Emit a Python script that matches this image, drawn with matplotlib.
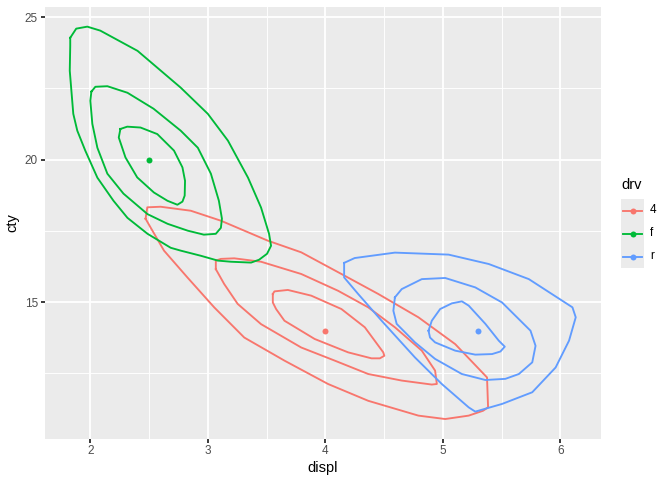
import numpy as np
import matplotlib
matplotlib.use('Agg')
import matplotlib.pyplot as plt

plt.rcParams['font.family'] = ['Liberation Sans', 'DejaVu Sans']

# groups (drv) and their ggplot hue colours
drv = ['4', 'f', 'r']
colors = ['#F8766D', '#00BA38', '#619CFF']

# summary points
pt_x = [4.0, 2.5, 5.3]
pt_y = [14.0, 20.0, 14.0]

# density contours (displ, cty)
red_outer_x = [2.470, 2.485, 2.598, 2.855, 3.111, 3.510, 3.795, 4.137, 4.450, 4.792, 5.105, 5.376,
               5.385, 5.342, 5.220, 5.020, 4.792, 4.365, 4.023, 3.652, 3.310, 3.054, 2.826, 2.627, 2.513]
red_outer_y = [17.93, 18.33, 18.35, 18.21, 17.86, 17.16, 16.75, 15.99, 15.29, 14.47, 13.53, 12.36,
               11.31, 11.19, 11.02, 10.90, 11.02, 11.54, 12.13, 12.95, 13.76, 14.82, 15.87, 16.81, 17.62]
red_mid_x = [3.068, 3.068, 3.111, 3.225, 3.453, 3.795, 4.109, 4.365, 4.592, 4.821, 4.934, 4.949,
             4.906, 4.650, 4.365, 4.080, 3.795, 3.453, 3.254, 3.139]
red_mid_y = [16.16, 16.46, 16.52, 16.54, 16.42, 15.99, 15.40, 14.82, 14.12, 13.30, 12.60, 12.13,
             12.11, 12.25, 12.48, 12.95, 13.41, 14.23, 14.94, 15.64]
red_inner_x = [3.553, 3.567, 3.681, 3.880, 4.137, 4.336, 4.493, 4.502, 4.464, 4.393, 4.194, 3.909,
               3.652, 3.581, 3.553]
red_inner_y = [15.29, 15.38, 15.43, 15.23, 14.76, 14.12, 13.24, 13.12, 13.03, 13.03, 13.24, 13.71,
               14.35, 14.76, 14.99]

green_outer_x = [1.829, 1.880, 1.974, 2.085, 2.402, 2.769, 3.000, 3.171, 3.342, 3.453, 3.521, 3.538,
                 3.504, 3.436, 3.368, 3.197, 3.085, 2.940, 2.769, 2.684, 2.487, 2.316, 2.197, 2.060,
                 1.957, 1.889, 1.855, 1.825, 1.829]
green_outer_y = [24.28, 24.60, 24.67, 24.53, 23.82, 22.53, 21.61, 20.67, 19.37, 18.32, 17.40, 16.98,
                 16.70, 16.49, 16.39, 16.42, 16.46, 16.63, 16.81, 16.91, 17.40, 17.96, 18.56, 19.37,
                 20.32, 21.02, 21.61, 23.12, 24.00]
green_mid_x = [2.009, 2.043, 2.145, 2.316, 2.538, 2.769, 2.915, 3.026, 3.094, 3.120, 3.111, 3.068,
               2.966, 2.829, 2.658, 2.487, 2.282, 2.145, 2.060, 2.017, 2.000]
green_mid_y = [22.39, 22.56, 22.58, 22.35, 21.79, 21.02, 20.42, 19.51, 18.56, 17.93, 17.61, 17.40,
               17.37, 17.51, 17.75, 18.09, 18.81, 19.51, 20.42, 21.26, 22.07]
green_inner_x = [2.256, 2.314, 2.427, 2.570, 2.712, 2.784, 2.806, 2.803, 2.784, 2.741, 2.656, 2.541,
                 2.399, 2.299, 2.242]
green_inner_y = [21.08, 21.16, 21.13, 20.90, 20.32, 19.73, 19.26, 18.74, 18.53, 18.42, 18.56, 18.85,
                 19.38, 20.08, 20.78]

blue_outer_x = [4.160, 4.250, 4.592, 5.049, 5.391, 5.732, 6.103, 6.131, 6.074, 5.960, 5.761, 5.504,
                5.276, 5.220, 4.991, 4.763, 4.479, 4.279, 4.160]
blue_outer_y = [16.38, 16.55, 16.74, 16.67, 16.34, 15.81, 14.82, 14.47, 13.65, 12.71, 11.84, 11.43,
                11.16, 11.31, 12.13, 13.06, 14.35, 15.29, 15.87]
blue_mid_x = [4.592, 4.650, 4.821, 5.020, 5.276, 5.504, 5.746, 5.789, 5.761, 5.647, 5.532, 5.362,
              5.162, 4.934, 4.763, 4.607, 4.579]
blue_mid_y = [15.17, 15.46, 15.81, 15.85, 15.52, 14.99, 14.00, 13.47, 12.89, 12.48, 12.31, 12.27,
              12.48, 13.01, 13.59, 14.24, 14.70]
blue_inner_x = [4.878, 4.906, 4.977, 5.077, 5.162, 5.220, 5.362, 5.476, 5.527, 5.490, 5.419, 5.276,
                5.105, 4.934, 4.891]
blue_inner_y = [14.00, 14.35, 14.76, 14.96, 15.03, 14.88, 14.24, 13.65, 13.44, 13.27, 13.18, 13.16,
                13.30, 13.59, 13.76]

contours = [
    [(red_outer_x, red_outer_y), (red_mid_x, red_mid_y), (red_inner_x, red_inner_y)],
    [(green_outer_x, green_outer_y), (green_mid_x, green_mid_y), (green_inner_x, green_inner_y)],
    [(blue_outer_x, blue_outer_y), (blue_mid_x, blue_mid_y), (blue_inner_x, blue_inner_y)],
]

fig = plt.figure(figsize=(6.72, 4.8), dpi=100)
ax = fig.add_axes([44.5/672, 1 - 438.7/480, (601 - 44.5)/672, (438.7 - 6.7)/480])
ax.set_facecolor('#EBEBEB')

for i in range(3):
    for cx, cy in contours[i]:
        xs = list(cx) + [cx[0]]
        ys = list(cy) + [cy[0]]
        ax.plot(xs, ys, color=colors[i], lw=1.35, solid_joinstyle='round', zorder=3)
for i in range(3):
    ax.plot(pt_x[i], pt_y[i], 'o', color=colors[i], ms=4.3, mec='none', zorder=4)

ax.set_xlim(1.61, 6.346)
ax.set_ylim(10.21, 25.37)
ax.set_xticks([2, 3, 4, 5, 6])
ax.set_xticks([2.5, 3.5, 4.5, 5.5], minor=True)
ax.set_yticks([15, 20, 25])
ax.set_yticks([12.5, 17.5, 22.5], minor=True)
ax.grid(which='major', color='white', lw=1.35)
ax.grid(which='minor', color='white', lw=0.68)
ax.set_axisbelow(True)
for s in ax.spines.values():
    s.set_visible(False)
ax.tick_params(which='major', length=2.64, width=1.35, color='#333333', labelcolor='#4D4D4D',
               labelsize=8.45, pad=2.1)
ax.tick_params(which='minor', length=0)
ax.set_xlabel('displ', fontsize=10.56, labelpad=2.6)
ax.set_ylabel('cty', fontsize=10.56, labelpad=3.5)

# legend
lax = fig.add_axes([621/672, 1 - 268/480, 23/672, 69/480])
lax.set_facecolor('#EBEBEB')
lax.set_xlim(0, 1)
lax.set_ylim(0, 3)
for i in range(3):
    yy = 2.5 - i
    lax.plot([0.1, 0.9], [yy, yy], color=colors[i], lw=1.35)
    lax.plot(0.5, yy, 'o', color=colors[i], ms=4.3, mec='none')
    fig.text(650/672, 1 - (210 + 23 * i)/480, drv[i], fontsize=8.45, va='center', ha='left')
lax.set_xticks([])
lax.set_yticks([])
for s in lax.spines.values():
    s.set_visible(False)
fig.text(621/672, 1 - 185/480, 'drv', fontsize=10.56, va='center', ha='left')

fig.savefig('out.png', dpi=100)
